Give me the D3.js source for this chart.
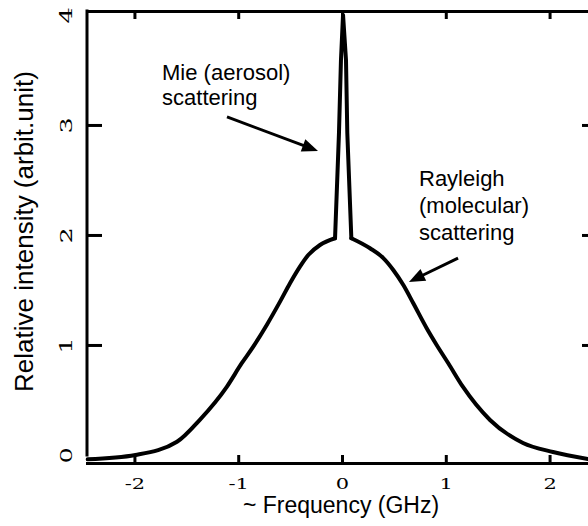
<!DOCTYPE html>
<html>
<head>
<meta charset="utf-8">
<script src="https://cdn.jsdelivr.net/npm/d3@7"></script>
<style>
  body { margin: 0; background: #fff; }
  svg { display: block; }
</style>
</head>
<body>
<div class="canvas"></div>
<script>
// profile: frequency (GHz) / relative intensity
// left wing of the Rayleigh (molecular) line, ends at the foot of the spike
const leftFreq = [-2.45, -1.99, -1.59, -1.37, -1.11, -0.966, -0.855, -0.725, -0.597, -0.501, -0.405, -0.325, -0.212, -0.067];
const leftInt  = [-0.04, 0.0, 0.12, 0.32, 0.62, 0.834, 0.985, 1.182, 1.394, 1.561, 1.712, 1.818, 1.909, 1.97];

// narrow Mie (aerosol) spike
const peakFreq = [-0.067, -0.029, -0.01, 0.01, 0.0385, 0.051, 0.09];
const peakInt  = [1.97, 2.93, 3.59, 4.0, 3.59, 2.93, 1.97];

// right wing of the Rayleigh line
const rightFreq = [0.09, 0.27, 0.398, 0.494, 0.591, 0.687, 0.816, 0.912, 1.024, 1.166, 1.426, 1.744, 2.033, 2.37];
const rightInt  = [1.97, 1.879, 1.79, 1.682, 1.545, 1.379, 1.152, 1.0, 0.834, 0.618, 0.318, 0.109, 0.027, -0.036];

const xTicks = [-2, -1, 0, 1, 2];
const yTicks = [0, 1, 2, 3, 4];

const xTitle = '~ Frequency (GHz)';
const yTitle = 'Relative intensity (arbit.unit)';

const svg = d3.select('.canvas')
  .append('svg')
    .attr('width', 588)
    .attr('height', 526);

const x = d3.scaleLinear()
  .domain([-2.457, 2.457])
  .range([87, 597]);

const y = d3.scaleLinear()
  .domain([-0.073, 4.036])
  .range([463, 11]);

const sans = '"Liberation Sans", Arial, Helvetica, sans-serif';
const serif = '"DejaVu Serif", "Liberation Serif", serif';

// axes: ticks point inward
const bottomAxis = svg.append('g')
  .attr('transform', `translate(0, ${y.range()[0]})`)
  .call(d3.axisBottom(x).tickValues(xTicks).tickSizeInner(-8).tickSizeOuter(0).tickFormat(d => String(d)));

const topAxis = svg.append('g')
  .attr('transform', `translate(0, ${y.range()[1]})`)
  .call(d3.axisTop(x).tickValues(xTicks).tickSizeInner(-8).tickSizeOuter(0).tickFormat(''));

const leftAxis = svg.append('g')
  .attr('transform', `translate(${x.range()[0]}, 0)`)
  .call(d3.axisLeft(y).tickValues(yTicks).tickSizeInner(-15).tickSizeOuter(0).tickFormat(d => String(d)));

const rightAxis = svg.append('g')
  .attr('transform', `translate(${x.range()[1]}, 0)`)
  .call(d3.axisRight(y).tickValues(yTicks).tickSizeInner(-15).tickSizeOuter(0).tickFormat(''));

[bottomAxis, topAxis, leftAxis, rightAxis].forEach(g => {
  g.attr('font-size', null).attr('font-family', null);
  g.selectAll('.tick line')
    .attr('stroke', '#000')
    .attr('stroke-width', 3);
  g.select('.domain')
    .attr('stroke', '#000')
    .attr('stroke-width', 3)
    .attr('stroke-linecap', 'square');
});

// the left frame line stops at zero, the 0 and 4 ticks are not drawn
leftAxis.select('.domain')
  .attr('d', `M0,${y.range()[1]}V${y(0)}`);
[leftAxis, rightAxis].forEach(g => {
  g.selectAll('.tick line')
    .filter(d => d === 0 || d === 4)
    .remove();
});

// tick digits in the reference are wide, so stretch them a bit
bottomAxis.selectAll('.tick text')
  .attr('y', 0)
  .attr('dy', 0)
  .attr('transform', 'translate(0, 26) scale(1.4, 1)')
  .attr('fill', '#000')
  .attr('font-family', serif)
  .attr('font-size', 15);

leftAxis.selectAll('.tick text')
  .attr('x', 0)
  .attr('dy', 0)
  .attr('text-anchor', 'middle')
  .attr('transform', 'translate(-15, 0) rotate(-90) scale(1.5, 1)')
  .attr('fill', '#000')
  .attr('font-family', serif)
  .attr('font-size', 17);

// axis titles
svg.append('text')
  .attr('x', 341)
  .attr('y', 513)
  .attr('text-anchor', 'middle')
  .style('font-family', sans)
  .style('font-size', '23px')
  .text(xTitle);

svg.append('text')
  .attr('transform', 'translate(33, 231.5) rotate(-90)')
  .attr('text-anchor', 'middle')
  .style('font-family', sans)
  .style('font-size', '26px')
  .text(yTitle);

// spectrum: smooth wings, straight-legged spike
const smooth = d3.line()
  .x(d => x(d[0]))
  .y(d => y(d[1]))
  .curve(d3.curveMonotoneX);

const straight = d3.line()
  .x(d => x(d[0]))
  .y(d => y(d[1]));

const parts = [
  {pts: d3.zip(leftFreq, leftInt), gen: smooth},
  {pts: d3.zip(peakFreq, peakInt), gen: straight},
  {pts: d3.zip(rightFreq, rightInt), gen: smooth}
];

svg.append('g')
  .selectAll('path')
  .data(parts)
  .enter()
  .append('path')
    .attr('d', d => d.gen(d.pts))
    .attr('fill', 'none')
    .attr('stroke', '#000')
    .attr('stroke-width', 4)
    .attr('stroke-linejoin', 'round')
    .attr('stroke-linecap', 'round');

// annotations (data coordinates)
const notes = [
  {lines: ['Mie (aerosol)', 'scattering'], at: [-1.734, 3.41], lead: 25},
  {lines: ['Rayleigh', '(molecular)', 'scattering'], at: [0.742, 2.445], lead: 27}
];

notes.forEach(n => {
  const t = svg.append('text')
    .attr('x', x(n.at[0]))
    .attr('y', y(n.at[1]))
    .style('font-family', sans)
    .style('font-size', '22px');
  t.selectAll('tspan')
    .data(n.lines)
    .enter()
    .append('tspan')
      .attr('x', x(n.at[0]))
      .attr('dy', (d, i) => i === 0 ? 0 : n.lead)
      .text(d => d);
});

const arrows = [
  {from: [-1.108, 3.073], to: [-0.231, 2.764]},
  {from: [1.118, 1.79], to: [0.645, 1.573]}
];

arrows.forEach(a => {
  const x0 = x(a.from[0]), y0 = y(a.from[1]);
  const x1 = x(a.to[0]), y1 = y(a.to[1]);
  const ang = Math.atan2(y1 - y0, x1 - x0);
  const c = Math.cos(ang), s = Math.sin(ang);
  const len = 16, half = 6.5;
  const bx = x1 - len * c, by = y1 - len * s;

  svg.append('line')
    .attr('x1', x0).attr('y1', y0)
    .attr('x2', bx + 3 * c).attr('y2', by + 3 * s)
    .attr('stroke', '#000')
    .attr('stroke-width', 3);

  svg.append('polygon')
    .attr('points', [[x1, y1], [bx - half * s, by + half * c], [bx + half * s, by - half * c]].join(' '))
    .attr('fill', '#000');
});
</script>
</body>
</html>
